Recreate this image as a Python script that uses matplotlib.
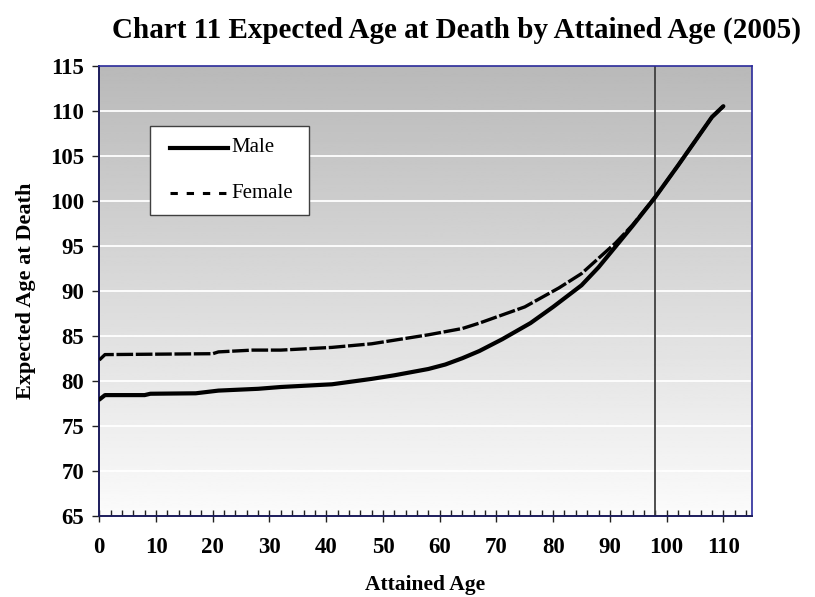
import numpy as np
import matplotlib
matplotlib.use("Agg")
import matplotlib.pyplot as plt
from matplotlib.lines import Line2D
from matplotlib.patches import Rectangle

# ---- data ----
male_age = [0, 1, 8, 9, 17, 21, 28, 32, 41, 48, 52, 58, 61, 64, 67, 71, 76, 80,
            85, 88, 91, 94, 98, 102, 104, 108, 110]
male_val = [77.9, 78.4, 78.4, 78.55, 78.6, 78.9, 79.1, 79.3, 79.6, 80.2, 80.6, 81.3,
            81.8, 82.5, 83.3, 84.6, 86.4, 88.2, 90.6, 92.6, 94.9, 97.2, 100.4, 103.9,
            105.7, 109.3, 110.5]
female_age = [0, 1, 20, 21, 27, 32, 41, 48, 52, 58, 64, 67, 75, 81, 85, 91, 94, 98,
              102, 104, 108, 110]
female_val = [82.3, 82.9, 83.0, 83.2, 83.4, 83.4, 83.7, 84.1, 84.5, 85.1, 85.8, 86.4,
              88.2, 90.3, 91.9, 95.3, 97.3, 100.4, 103.9, 105.7, 109.3, 110.5]
series_names = ['Male', 'Female']
x_ticks = list(range(0, 111, 10))
y_ticks = list(range(65, 116, 5))
marker_age = 98

title = "Chart 11 Expected Age at Death by Attained Age (2005)"
xlabel = "Attained Age"
ylabel = "Expected Age at Death"

plt.rcParams['font.family'] = ['Liberation Serif', 'DejaVu Serif']

W, H = 815, 597
fig = plt.figure(figsize=(W/100, H/100), dpi=100)
ax = fig.add_axes([99.3/W, 1-515.7/H, (751.7-99.3)/W, (515.7-65.7)/H])
ax.set_xlim(0, 115)
ax.set_ylim(65, 115)

# gradient background: dark grey at top, near white at bottom
grad = np.linspace(0.985, 0.725, 256).reshape(-1, 1)
ax.imshow(grad, extent=[0, 115, 65, 115], aspect='auto', cmap='gray',
          vmin=0, vmax=1, zorder=0, origin='lower')

for yv in y_ticks[1:-1]:
    ax.axhline(yv, color='white', lw=1.3, zorder=1)

ax.axvline(marker_age, color='#404040', lw=1.3, zorder=2)

ax.plot(female_age, female_val, color='black', lw=2.4, dashes=(5, 0.8), zorder=3,
        solid_capstyle='butt')
ax.plot(male_age, male_val, color='black', lw=3.0, zorder=4, solid_capstyle='round')

for side in ['left', 'bottom']:
    ax.spines[side].set_color('#1c1c5c')
    ax.spines[side].set_linewidth(1.4)
for side in ['top', 'right']:
    ax.spines[side].set_color('#2a2a9a')
    ax.spines[side].set_linewidth(1.2)

ax.set_xticks(x_ticks)
ax.set_xticks(range(0, 116, 2), minor=True)
ax.set_yticks(y_ticks)
ax.tick_params(axis='x', which='major', direction='inout', length=9, width=1,
               color='#202020', pad=11, labelsize=16.5)
ax.tick_params(axis='x', which='minor', direction='in', length=4, width=1, color='#202020')
ax.tick_params(axis='y', which='major', direction='out', length=5, width=1,
               color='#202020', pad=6, labelsize=16.5)
for lab in ax.get_xticklabels() + ax.get_yticklabels():
    lab.set_fontweight('bold')

ax.set_xlabel(xlabel, fontsize=15.5, fontweight='bold', labelpad=12)
ax.set_ylabel(ylabel, fontsize=16, fontweight='bold', labelpad=10)

fig.text(457/W, 1-30/H, title, ha='center', va='center', fontsize=21, fontweight='bold')

# legend drawn as a box with sample lines
def fx(px):
    return px / W

def fy(py):
    return 1 - py / H

fig.add_artist(Rectangle((fx(150), fy(215)), fx(309) - fx(150), fy(125.7) - fy(215),
                         transform=fig.transFigure, facecolor='white',
                         edgecolor='#404040', lw=1.0, zorder=5))
fig.add_artist(Line2D([fx(170), fx(228)], [fy(148), fy(148)], transform=fig.transFigure,
                      color='black', lw=3.0, zorder=6))
fig.add_artist(Line2D([fx(170), fx(228)], [fy(193), fy(193)], transform=fig.transFigure,
                      color='black', lw=2.2, dashes=(2.4, 2.9), zorder=6))
fig.text(fx(231), fy(148), series_names[0], ha='left', va='center', fontsize=15, zorder=6)
fig.text(fx(231), fy(193), series_names[1], ha='left', va='center', fontsize=15, zorder=6)

fig.savefig("out.png", dpi=100)
